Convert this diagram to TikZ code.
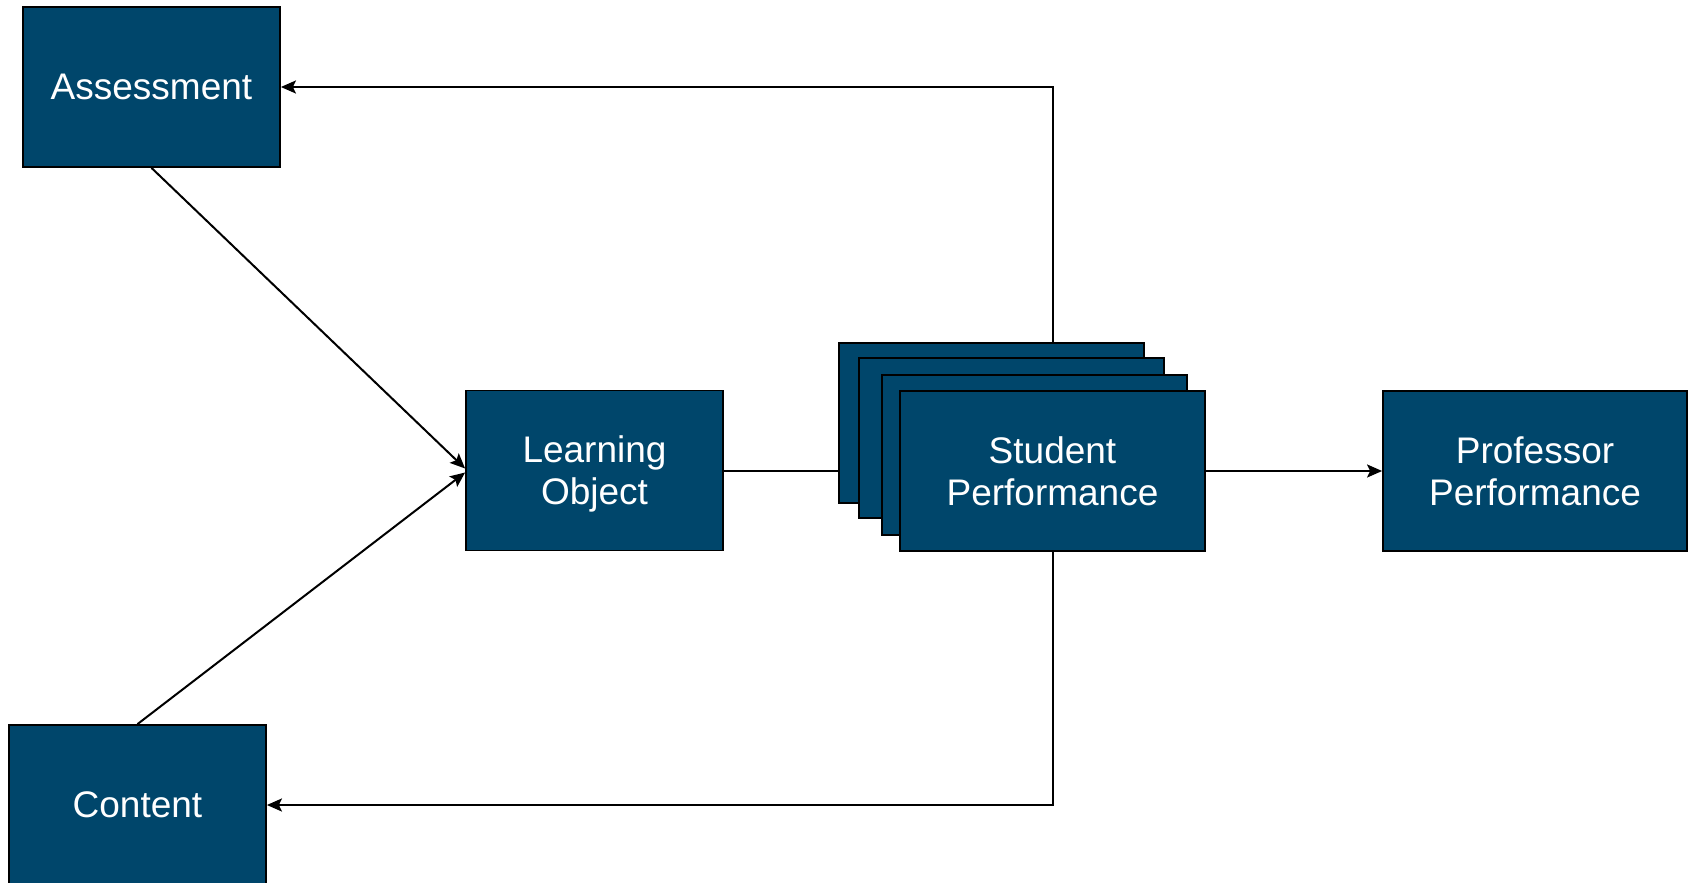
\documentclass[tikz,border=0pt]{standalone}
\usepackage{fontspec}
\setmainfont{Liberation Sans}
\usepackage{xcolor}
\usepackage{tikz}
\usetikzlibrary{arrows.meta}
\usetikzlibrary{positioning}
\definecolor{boxblue}{RGB}{0,70,107}

\tikzset{
  block/.style={rectangle,draw=black,line width=1.8pt,fill=boxblue,text=white,
    inner sep=0pt,align=center,text depth=0pt,font=\fontsize{37}{42}\selectfont},
  link/.style={line width=2pt,-{Stealth[length=15pt,width=13pt,inset=3pt]}}
}

\begin{document}
\begin{tikzpicture}[x=1pt,y=-1pt]
  \useasboundingbox (0,0) rectangle (1692,883);
  \node[block,minimum width=257pt,minimum height=160pt] (assess) at (151.5,87) {Assessment};
  \node[block,minimum width=257pt,minimum height=160pt] (content) at (137.5,805) {Content};
  \node[block,minimum width=257pt,minimum height=160pt] (learn) at (594.5,470.5) {Learning\\Object};
  % stacked student boxes
  \node[block,minimum width=305pt,minimum height=160pt] (stu1) at (991.5,423) {};
  \node[block,minimum width=305pt,minimum height=160pt] (stu2) at (1011.5,438) {};
  \node[block,minimum width=305pt,minimum height=160pt] (stu3) at (1034.5,455) {};
  \node[block,minimum width=305pt,minimum height=160pt] (stu4) at (1052.5,471) {Student\\Performance};
  \node[block,minimum width=304pt,minimum height=160pt] (prof) at (1535,471) {Professor\\Performance};

  \draw[link] (assess.south) -- ([yshift=2pt]learn.west);
  \draw[link] (content.north) -- ([yshift=-2pt]learn.west);
  \draw[line width=2pt] (learn.east) -- (learn.east -| stu1.west);
  \draw[link] (stu4.east) -- (prof.west);
  \draw[link] (stu4.north |- stu1.north) |- (assess.east);
  \draw[link] (stu4.south) |- (content.east);
\end{tikzpicture}
\end{document}
